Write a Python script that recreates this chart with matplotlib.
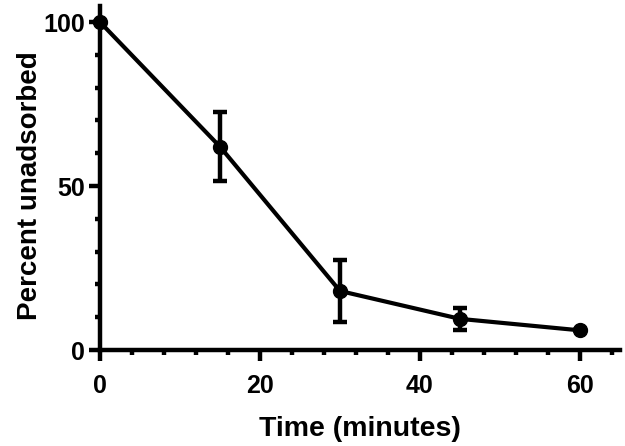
import matplotlib
matplotlib.use("Agg")
import matplotlib.pyplot as plt
from matplotlib.ticker import MultipleLocator

time_min = [0, 15, 30, 45, 60]
percent = [100, 62, 18, 9.5, 6]
err = [0, 10.5, 9.5, 3.3, 0]

plt.rcParams['font.family'] = ['Liberation Sans', 'DejaVu Sans']
plt.rcParams['font.weight'] = 'bold'

fig = plt.figure(figsize=(6.25, 4.46), dpi=100)
ax = fig.add_axes([0.16, 0.2152, 0.832, 0.772])

LW = 3.2
ax.errorbar(time_min, percent, yerr=err, color='black', lw=3.0, marker='o',
            markersize=10, capsize=4.7, capthick=LW, elinewidth=LW)

ax.set_xlim(0, 65)
ax.set_ylim(0, 105)
ax.set_xticks([0, 20, 40, 60])
ax.set_yticks([0, 50, 100])
ax.xaxis.set_minor_locator(MultipleLocator(4))
ax.yaxis.set_minor_locator(MultipleLocator(10))
for s in ['top', 'right']:
    ax.spines[s].set_visible(False)
for s in ['left', 'bottom']:
    ax.spines[s].set_linewidth(LW)
ax.tick_params(which='major', length=8, width=LW, labelsize=18)
ax.tick_params(axis='x', which='major', pad=9)
ax.tick_params(axis='y', which='major', pad=3)
ax.tick_params(which='minor', length=3.5, width=LW)
for lab in ax.get_xticklabels() + ax.get_yticklabels():
    lab.set_fontweight('bold')
ax.set_xlabel('Time (minutes)', fontsize=20.5, fontweight='bold', labelpad=13)
ax.set_ylabel('Percent unadsorbed', fontsize=20, fontweight='bold', labelpad=0)
ax.yaxis.label.set_y(50 / 105)
for c in ax.get_children():
    try:
        c.set_clip_on(False)
    except Exception:
        pass

fig.savefig('out.png', dpi=100)
